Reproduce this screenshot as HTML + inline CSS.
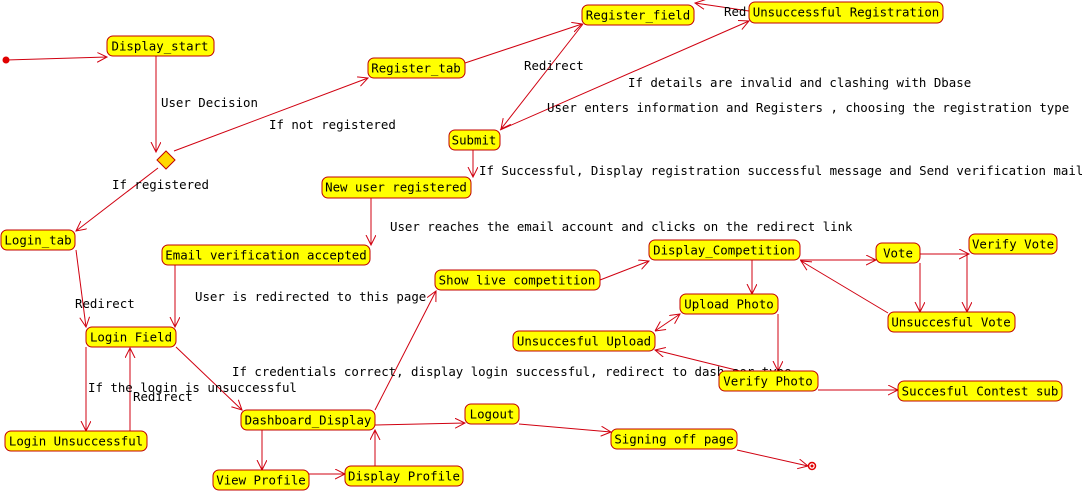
<!DOCTYPE html>
<html><head><meta charset="utf-8"><style>
html,body{margin:0;padding:0;background:#fff;width:1091px;height:491px;overflow:hidden}
text{font-family:"DejaVu Sans Mono","Liberation Mono",monospace;font-size:12.4px;fill:#000}
.n rect{fill:#ffff00;stroke:#c00000;stroke-width:1}
.n text{dominant-baseline:central;text-anchor:middle}
line,polyline{stroke:#d00010;stroke-width:1;fill:none}
</style></head><body>
<svg width="1091" height="491" xmlns="http://www.w3.org/2000/svg">
<defs><marker id="a" markerWidth="12" markerHeight="12" refX="10" refY="5" orient="auto" markerUnits="userSpaceOnUse"><polyline points="0,0 10,5 0,10" style="stroke:#d00010;fill:none"/></marker>
<marker id="b" markerWidth="12" markerHeight="12" refX="0" refY="5" orient="auto" markerUnits="userSpaceOnUse"><polyline points="10,0 0,5 10,10" style="stroke:#d00010;fill:none"/></marker></defs>
<g marker-end="url(#a)">
<line x1="6" y1="60" x2="107" y2="57"/>
<line x1="156" y1="56" x2="156" y2="152"/>
<line x1="174" y1="151" x2="368" y2="78"/>
<line x1="158" y1="168" x2="76" y2="231"/>
<line x1="465" y1="63" x2="582" y2="24"/>
<line x1="583" y1="24" x2="501" y2="129"/>
<line x1="500" y1="130" x2="749" y2="21"/>
<line x1="749" y1="11" x2="695" y2="3"/>
<line x1="473" y1="150" x2="473" y2="177"/>
<line x1="371" y1="198" x2="371" y2="245"/>
<line x1="76" y1="250" x2="86" y2="327"/>
<line x1="175" y1="265" x2="175" y2="327"/>
<line x1="86" y1="347" x2="86" y2="431"/>
<line x1="130" y1="431" x2="130" y2="348"/>
<line x1="176" y1="347" x2="242" y2="410"/>
<line x1="375" y1="410" x2="436" y2="291"/>
<line x1="600" y1="280" x2="649" y2="261"/>
<line x1="800" y1="260" x2="876" y2="260"/>
<line x1="752" y1="260" x2="752" y2="294"/>
<line x1="920" y1="254" x2="969" y2="254"/>
<line x1="920" y1="263" x2="920" y2="312"/>
<line x1="967" y1="254" x2="967" y2="312"/>
<line x1="888" y1="313" x2="801" y2="261"/>
<line x1="778" y1="314" x2="778" y2="371"/>
<line x1="818" y1="390" x2="898" y2="390"/>
<line x1="740" y1="371" x2="655" y2="350"/>
<line x1="375" y1="425" x2="465" y2="423"/>
<line x1="519" y1="424" x2="611" y2="432"/>
<line x1="737" y1="450" x2="808" y2="466"/>
<line x1="262" y1="430" x2="262" y2="470"/>
<line x1="309" y1="474" x2="345" y2="474"/>
<line x1="375" y1="466" x2="375" y2="430"/>
</g>
<line x1="655" y1="331" x2="680" y2="314" marker-end="url(#a)" marker-start="url(#b)"/>
<circle cx="6" cy="60" r="3.5" fill="#e00000"/>
<circle cx="812" cy="466" r="3.5" fill="#fff" stroke="#e00000" stroke-width="1.5"/>
<circle cx="812" cy="466" r="1.5" fill="#e00000"/>
<polygon points="166,151 175,160 166,169 157,160" fill="#ffd800" stroke="#c00000"/>
<text x="161" y="107">User Decision</text>
<text x="269" y="129">If not registered</text>
<text x="112" y="189">If registered</text>
<text x="524" y="70">Redirect</text>
<text x="724" y="16">Red</text>
<text x="628" y="87">If details are invalid and clashing with Dbase</text>
<text x="547" y="112">User enters information and Registers , choosing the registration type</text>
<text x="479" y="175">If Successful, Display registration successful message and Send verification mail</text>
<text x="390" y="231">User reaches the email account and clicks on the redirect link</text>
<text x="75" y="308">Redirect</text>
<text x="195" y="301">User is redirected to this page</text>
<text x="232" y="376">If credentials correct, display login successful, redirect to dash            ser_type</text>
<text x="88" y="392">If the login is unsuccessful</text>
<text x="133" y="401">Redirect</text>
<g class="n">
<rect x="107" y="36" width="107" height="20" rx="6"/><text x="160" y="46">Display_start</text>
<rect x="582" y="5" width="112" height="20" rx="6"/><text x="638" y="15">Register_field</text>
<rect x="749" y="2" width="194" height="21" rx="6"/><text x="846" y="12">Unsuccessful Registration</text>
<rect x="368" y="58" width="97" height="20" rx="6"/><text x="416" y="68">Register_tab</text>
<rect x="449" y="130" width="51" height="20" rx="6"/><text x="474" y="140">Submit</text>
<rect x="322" y="177" width="149" height="21" rx="6"/><text x="396" y="187">New user registered</text>
<rect x="1" y="230" width="74" height="20" rx="6"/><text x="38" y="240">Login_tab</text>
<rect x="162" y="245" width="208" height="20" rx="6"/><text x="266" y="255">Email verification accepted</text>
<rect x="649" y="240" width="151" height="20" rx="6"/><text x="724" y="250">Display_Competition</text>
<rect x="876" y="243" width="44" height="20" rx="6"/><text x="898" y="253">Vote</text>
<rect x="969" y="234" width="88" height="20" rx="6"/><text x="1013" y="244">Verify Vote</text>
<rect x="435" y="270" width="165" height="20" rx="6"/><text x="517" y="280">Show live competition</text>
<rect x="680" y="294" width="98" height="20" rx="6"/><text x="729" y="304">Upload Photo</text>
<rect x="888" y="312" width="127" height="20" rx="6"/><text x="951" y="322">Unsuccesful Vote</text>
<rect x="86" y="327" width="90" height="20" rx="6"/><text x="131" y="337">Login Field</text>
<rect x="513" y="331" width="142" height="20" rx="6"/><text x="584" y="341">Unsuccesful Upload</text>
<rect x="719" y="371" width="99" height="20" rx="6"/><text x="768" y="381">Verify Photo</text>
<rect x="898" y="381" width="164" height="20" rx="6"/><text x="980" y="391">Succesful Contest sub</text>
<rect x="465" y="404" width="54" height="20" rx="6"/><text x="492" y="414">Logout</text>
<rect x="241" y="410" width="134" height="20" rx="6"/><text x="308" y="420">Dashboard_Display</text>
<rect x="5" y="431" width="142" height="20" rx="6"/><text x="76" y="441">Login Unsuccessful</text>
<rect x="611" y="429" width="126" height="20" rx="6"/><text x="674" y="439">Signing off page</text>
<rect x="213" y="470" width="96" height="20" rx="6"/><text x="261" y="480">View Profile</text>
<rect x="345" y="466" width="118" height="20" rx="6"/><text x="404" y="476">Display Profile</text>
</g>
</svg>
</body></html>
